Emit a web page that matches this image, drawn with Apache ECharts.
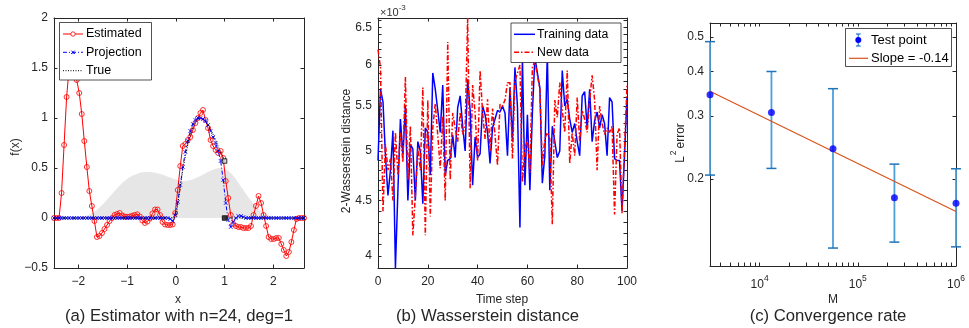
<!DOCTYPE html>
<html><head><meta charset="utf-8">
<script src="https://cdn.jsdelivr.net/npm/echarts@6/dist/echarts.min.js"></script>
<style>html,body{margin:0;padding:0;background:#fff}#c{width:969px;height:328px}</style>
</head><body><div id="c"></div><script>
// ---------- Panel (a) data ----------
const estX = [-2.500,-2.448,-2.396,-2.345,-2.293,-2.241,-2.189,-2.137,-2.085,-2.034,-1.982,-1.930,-1.878,-1.826,-1.775,-1.723,-1.671,-1.619,-1.567,-1.515,-1.464,-1.412,-1.360,-1.308,-1.256,-1.205,-1.153,-1.101,-1.049,-0.997,-0.945,-0.894,-0.842,-0.790,-0.738,-0.686,-0.635,-0.583,-0.531,-0.479,-0.427,-0.375,-0.324,-0.272,-0.220,-0.168,-0.116,-0.065,-0.013,0.039,0.091,0.143,0.195,0.246,0.298,0.350,0.402,0.454,0.505,0.557,0.609,0.661,0.713,0.765,0.816,0.868,0.920,0.972,1.024,1.075,1.127,1.179,1.231,1.283,1.335,1.386,1.438,1.490,1.542,1.594,1.645,1.697,1.749,1.801,1.853,1.905,1.956,2.008,2.060,2.112,2.164,2.215,2.267,2.319,2.371,2.423,2.475,2.526,2.578,2.630];
const estY = [0,0,0,0.25,0.73,1.21,1.5,1.65,1.55,1.38,1.25,1.04,0.77,0.51,0.27,0.12,-0.03,-0.19,-0.18,-0.15,-0.11,-0.07,-0.03,0.0,0.03,0.04,0.05,0.025,0.015,0.012,0.015,0.023,0.03,0.037,0.015,-0.025,-0.05,-0.035,-0.005,0.045,0.085,0.085,0.03,-0.04,-0.065,-0.07,-0.07,-0.065,0.05,0.28,0.52,0.72,0.74,0.78,0.81,0.88,0.95,1.0,1.05,1.08,0.98,0.9,0.78,0.72,0.68,0.65,0.67,0.6,0.37,0.2,0.03,-0.06,-0.08,-0.09,-0.09,-0.1,-0.1,-0.1,-0.08,0.03,0.12,0.22,0.15,0.03,-0.08,-0.19,-0.21,-0.21,-0.2,-0.2,-0.26,-0.32,-0.38,-0.34,-0.24,-0.12,-0.01,0,0,0];
const projY = [0,0,0,0,0,0,0,0,0,0,0,0,0,0,0,0,0,0,0,0,0,0,0,0,0,0,0,0,0,0,0,0,0,0,0,0,0,0,0,0,0,0,0,0,0,0,-0.01,-0.03,0.03,0.16,0.33,0.51,0.66,0.77,0.87,0.94,0.98,1.0,1.0,0.99,0.97,0.93,0.87,0.81,0.75,0.67,0.57,0.38,0.15,-0.02,-0.09,-0.04,0.0,0.02,0.02,0.01,0,0,0,0,0,0,0,0,0,0,0,0,0,0,0,0,0,0,0,0,0,0,0,0];
const trueX = [-2.5,0,0.05,0.1,0.15,0.2,0.25,0.3,0.35,0.4,0.45,0.5,0.55,0.6,0.65,0.7,0.75,0.8,0.85,0.9,0.95,1.0,1.0,1.0,2.63];
const trueY = [0,0,0.17,0.34,0.5,0.63,0.74,0.84,0.91,0.96,0.99,1.0,0.99,0.97,0.94,0.9,0.85,0.8,0.74,0.68,0.62,0.57,null,0,0];
const jumpX = [1.0, 1.0];
const jumpY = [0.57, 0];
const densX = [-2.5,-2.2,-2.0,-1.8,-1.6,-1.4,-1.2,-1.0,-0.8,-0.6,-0.4,-0.2,0,0.15,0.3,0.5,0.7,0.9,1.0,1.1,1.2,1.3,1.4,1.5,1.6,1.7,1.8,1.9,2.0,2.2,2.63];
const densY = [0,0,0.005,0.03,0.09,0.19,0.3,0.39,0.44,0.46,0.45,0.42,0.385,0.37,0.38,0.42,0.47,0.5,0.49,0.46,0.41,0.34,0.27,0.2,0.14,0.09,0.05,0.025,0.01,0,0];
const aXTicks = [-2,-1,0,1,2];
const aYTicks = [-0.5,0,0.5,1,1.5,2];

// ---------- Panel (b) data (x1e-3) ----------
const timeSteps = Array.from({length:101},(_,i)=>i);
const trainW = [4.9,5.7,5.55,4.95,4.55,4.8,5.22,3.9,4.6,5.35,4.95,5.5,4.5,5.07,5.02,4.5,5.1,5.0,4.47,5.25,5.2,4.75,5.9,5.7,5.45,5.2,5.75,4.75,4.9,4.92,5.17,4.93,5.48,5.62,5.27,5.0,5.82,5.45,4.65,5.15,4.93,4.97,5.5,5.4,5.2,4.87,5.25,5.35,5.45,5.43,5.5,5.42,4.95,5.72,5.1,5.97,5.5,4.25,6.1,4.65,5.4,4.6,5.42,6.1,5.9,5.72,4.67,4.95,6.15,4.6,5.27,5.1,4.93,5.0,5.93,5.5,5.58,5.35,5.2,5.3,5.1,4.95,5.62,5.67,5.25,5.7,5.1,5.33,5.43,5.25,5.4,5.3,4.95,5.6,5.55,4.92,4.9,4.9,4.4,4.95,5.6];
const newW = [6.2,5.97,4.4,5.07,4.8,4.92,4.5,5.2,4.75,5.2,4.88,5.85,4.7,5.27,4.18,4.55,5.03,4.8,5.72,4.18,5.57,4.35,5.25,5.53,5.17,4.82,5.38,4.5,6.3,4.7,5.42,5.25,5.1,5.43,5.18,5.27,6.63,4.62,5.75,5.42,4.9,5.93,5.43,5.13,5.58,5.0,5.47,5.17,4.85,5.52,5.5,5.57,5.78,5.78,4.92,5.8,5.9,6.0,4.68,5.03,5.12,4.78,5.97,6.05,5.87,5.7,4.85,5.13,5.2,5.13,4.28,5.57,5.37,5.78,5.45,5.2,5.93,4.87,5.2,4.95,5.6,5.1,5.45,5.35,5.2,5.57,5.87,5.57,4.8,5.5,5.3,5.18,5.25,5.2,5.27,4.37,5.18,5.25,4.38,5.03,5.75];
const bXTicks = [0,20,40,60,80,100];
const bYLabels = [4,4.5,5,5.5,6,6.5];
const bYMinor = [3.9,4.0,4.1,4.2,4.3,4.4,4.5,4.6,4.7,4.8,4.9,5.0,5.1,5.2,5.3,5.4,5.5,5.6,5.7,5.8,5.9,6.0,6.1,6.2,6.3,6.4,6.5,6.6];

// ---------- Panel (c) data ----------
const M = [3125, 13200, 55900, 236000, 1000000];
const errMean = [0.344, 0.307, 0.243, 0.177, 0.171];
const errLow = [0.205, 0.214, 0.128, 0.133, 0.129];
const errHigh = [0.485, 0.400, 0.358, 0.220, 0.2135];
const fitM = [3125, 1000000];
const fitY = [0.352, 0.162];
const cXLabels = [4,5,6];
const cXTicks = [4000,5000,6000,7000,8000,9000,10000,20000,30000,40000,50000,60000,70000,80000,90000,100000,200000,300000,400000,500000,600000,700000,800000,900000,1000000];
const cYTicks = [0.2,0.3,0.4,0.5];
const cYMin = 0.114, cYMax = 0.547;

const L = Math.log10;
const FONT = '"Liberation Sans", Arial, Helvetica, sans-serif';
const AX = '#262626';

function xPair(g, min, max, ticks, labels, fmt, rich){
  const common = {type:'value', gridIndex:g, min, max, splitLine:{show:false},
    axisLine:{show:true,onZero:false,lineStyle:{color:AX,width:1}},
    axisTick:{show:true,inside:true,length:3.5,customValues:ticks,lineStyle:{color:AX,width:1}}};
  return [
    Object.assign({}, common, {position:'bottom',
      axisLabel:{show:true,customValues:labels,formatter:fmt,color:AX,fontSize:12,fontFamily:FONT,margin:8,rich:rich}}),
    Object.assign({}, common, {position:'top', axisLabel:{show:false}})
  ];
}
function yPair(g, min, max, ticks, labels, fmt){
  const common = {type:'value', gridIndex:g, min, max, splitLine:{show:false},
    axisLine:{show:true,onZero:false,lineStyle:{color:AX,width:1}},
    axisTick:{show:true,inside:true,length:3.5,customValues:ticks,lineStyle:{color:AX,width:1}}};
  return [
    Object.assign({}, common, {position:'left',
      axisLabel:{show:true,customValues:labels,formatter:fmt,color:AX,fontSize:12,fontFamily:FONT,margin:6}}),
    Object.assign({}, common, {position:'right', axisLabel:{show:false}})
  ];
}
const fmtPlain = v => String(Math.round(v*100)/100).replace('-', '\u2212');
const fmtPow = v => String(Math.round(Math.pow(10,v)*100)/100);
const supRich = {b:{fontSize:12,fontFamily:FONT,color:AX,verticalAlign:'bottom',lineHeight:17},
                 s:{fontSize:8.5,fontFamily:FONT,color:AX,verticalAlign:'top',lineHeight:17}};

const bMin = L(Math.min(...trainW, ...newW)), bMax = L(Math.max(...trainW, ...newW));

const xAxis = [].concat(
  xPair(0, estX[0], estX[estX.length-1], aXTicks, aXTicks, fmtPlain),
  xPair(1, 0, 100, bXTicks, bXTicks, fmtPlain),
  xPair(2, L(M[0]), L(M[M.length-1]), cXTicks.map(L), cXLabels, v => '{b|10}{s|'+Math.round(v)+'}', supRich)
);
const yAxis = [].concat(
  yPair(0, -0.5, 2, aYTicks, aYTicks, fmtPlain),
  yPair(1, bMin, bMax, bYMinor.map(L), bYLabels.map(L), fmtPow),
  yPair(2, L(cYMin), L(cYMax), cYTicks.map(L), cYTicks.map(L), fmtPow)
);

const zip = (xs, ys) => xs.map((x,i)=> ys[i]===null ? [x,'-'] : [x, ys[i]]);

const series = [
  {type:'line', xAxisIndex:0, yAxisIndex:0, data:zip(densX,densY), symbol:'none', smooth:0.4,
   lineStyle:{width:0,color:'#e6e6e6'}, areaStyle:{color:'#e6e6e6',opacity:1}, silent:true, z:1},
  {type:'line', xAxisIndex:0, yAxisIndex:0, data:zip(estX,estY), symbol:'circle', symbolSize:5,
   itemStyle:{color:'rgba(255,255,255,0)',borderColor:'#ff0000',borderWidth:0.8},
   lineStyle:{color:'#ff0000',width:1}, z:3},
  {type:'line', xAxisIndex:0, yAxisIndex:0, data:zip(estX,projY), symbol:'path://M0,0L10,10M10,0L0,10', symbolSize:3.5,
   itemStyle:{color:'#0000ff',borderColor:'#0000ff',borderWidth:0.9},
   lineStyle:{color:'#0000ff',width:1,type:[4,2,1,2]}, z:4},
  {type:'line', xAxisIndex:0, yAxisIndex:0, data:zip(trueX,trueY), symbol:'none', connectNulls:false,
   lineStyle:{color:'#000000',width:1,type:[1,1.5]}, z:5},
  {type:'scatter', xAxisIndex:0, yAxisIndex:0, data:zip(jumpX,jumpY).map((d,i)=>({value:d, itemStyle:{color: i===0 ? '#d0d0d0' : '#111'}})),
   symbol:'rect', symbolSize:4.5, itemStyle:{borderColor:'#000',borderWidth:1}, z:6},

  {type:'line', xAxisIndex:2, yAxisIndex:2, data:timeSteps.map((t,i)=>[t, L(trainW[i])]), symbol:'none',
   lineStyle:{color:'#0000ff',width:1.5}, z:3},
  {type:'line', xAxisIndex:2, yAxisIndex:2, data:timeSteps.map((t,i)=>[t, L(newW[i])]), symbol:'none',
   lineStyle:{color:'#ff0000',width:1.5,type:[5,2,1.5,2]}, z:4},

  {type:'custom', xAxisIndex:4, yAxisIndex:4, clip:false, z:3,
   data:M.map((m,i)=>[L(m), L(errLow[i]), L(errHigh[i])]),
   renderItem:(params, api)=>{
     const x = api.value(0);
     const lo = api.coord([x, api.value(1)]), hi = api.coord([x, api.value(2)]);
     const cw = 5;
     return {type:'group', children:[
       {type:'line', shape:{x1:lo[0],y1:lo[1],x2:hi[0],y2:hi[1]}, style:{stroke:'#4d9fd8',lineWidth:1.8}},
       {type:'line', shape:{x1:lo[0]-cw,y1:lo[1],x2:lo[0]+cw,y2:lo[1]}, style:{stroke:'#1f74bb',lineWidth:1.5}},
       {type:'line', shape:{x1:hi[0]-cw,y1:hi[1],x2:hi[0]+cw,y2:hi[1]}, style:{stroke:'#1f74bb',lineWidth:1.5}}
     ]};
   }},
  {type:'line', xAxisIndex:4, yAxisIndex:4, data:fitM.map((m,i)=>[L(m), L(fitY[i])]), symbol:'none',
   lineStyle:{color:'#D95319',width:1.2}, z:4},
  {type:'scatter', xAxisIndex:4, yAxisIndex:4, clip:false, data:M.map((m,i)=>[L(m), L(errMean[i])]),
   symbol:'circle', symbolSize:7, itemStyle:{color:'#0000ff'}, z:5}
];

function txt(x, y, text, opt){
  return Object.assign({type:'text', x, y, silent:true,
    style:Object.assign({text, fontSize:12, fontFamily:FONT, fill:AX, align:'center', verticalAlign:'middle'}, (opt&&opt.style)||{})},
    opt&&opt.el||{});
}
const graphic = [
  txt(16, 147, 'f(x)', {el:{rotation:Math.PI/2}}),
  txt(178, 300, 'x'),
  txt(179, 316, '(a) Estimator with n=24, deg=1', {style:{fontSize:16.7}}),
  txt(346.5, 151, '2-Wasserstein distance', {el:{rotation:Math.PI/2}}),
  txt(502, 300, 'Time step'),
  txt(487.5, 316, '(b) Wasserstein distance', {style:{fontSize:16.7}}),
  txt(380, 11, '{b|\u00d710}{s|-3}', {style:{align:'left', rich:{b:{fontSize:11,fontFamily:FONT,fill:'#333',verticalAlign:'bottom',lineHeight:15},s:{fontSize:8,fontFamily:FONT,fill:'#333',verticalAlign:'top',lineHeight:15}}}}),
  txt(678, 143, '{b|L}{s|2}{b|error}', {el:{rotation:Math.PI/2}, style:{rich:{b:{fontSize:12,fontFamily:FONT,fill:AX,verticalAlign:'bottom',lineHeight:17},s:{fontSize:8.5,fontFamily:FONT,fill:AX,verticalAlign:'top',lineHeight:17,padding:[0,2,0,1]}}}}),
  txt(833, 300, 'M'),
  txt(828, 316, '(c) Convergence rate', {style:{fontSize:16.7}}),

  // legend (a)
  {type:'rect', shape:{x:59.5,y:22.5,width:92,height:57.5}, style:{fill:'#fff',stroke:AX,lineWidth:0.8}, z:50},
  {type:'line', shape:{x1:63,y1:34,x2:83,y2:34}, style:{stroke:'#ff0000',lineWidth:1}, z:51},
  {type:'circle', shape:{cx:73,cy:34,r:2.2}, style:{fill:'#fff',stroke:'#ff0000',lineWidth:0.8}, z:52},
  txt(86, 34, 'Estimated', {style:{align:'left',fontSize:12.5,fill:'#000'}, el:{z:52}}),
  {type:'line', shape:{x1:63,y1:52.3,x2:83,y2:52.3}, style:{stroke:'#0000ff',lineWidth:1,lineDash:[4,2,1,2]}, z:51},
  {type:'polyline', shape:{points:[[71.3,50.6],[74.7,54],[73,52.3],[71.3,54],[74.7,50.6]]}, style:{stroke:'#0000ff',lineWidth:0.9,fill:null}, z:52},
  txt(86, 52.3, 'Projection', {style:{align:'left',fontSize:12.5,fill:'#000'}, el:{z:52}}),
  {type:'line', shape:{x1:63,y1:70.7,x2:83,y2:70.7}, style:{stroke:'#000',lineWidth:1,lineDash:[1,1.5]}, z:51},
  txt(86, 70.7, 'True', {style:{align:'left',fontSize:12.5,fill:'#000'}, el:{z:52}}),

  // legend (b)
  {type:'rect', shape:{x:511,y:23,width:110,height:39.5}, style:{fill:'#fff',stroke:AX,lineWidth:0.8}, z:50},
  {type:'line', shape:{x1:514,y1:34.3,x2:535,y2:34.3}, style:{stroke:'#0000ff',lineWidth:1.5}, z:51},
  txt(537, 34.3, 'Training data', {style:{align:'left',fontSize:12.3,fill:'#000'}, el:{z:52}}),
  {type:'line', shape:{x1:514,y1:52.3,x2:535,y2:52.3}, style:{stroke:'#ff0000',lineWidth:1.5,lineDash:[5,2,1.5,2]}, z:51},
  txt(537, 52.3, 'New data', {style:{align:'left',fontSize:12.3,fill:'#000'}, el:{z:52}}),

  // legend (c)
  {type:'rect', shape:{x:845.5,y:28.5,width:106,height:38}, style:{fill:'#fff',stroke:AX,lineWidth:0.8}, z:50},
  {type:'line', shape:{x1:858.3,y1:34,x2:858.3,y2:46}, style:{stroke:'#4d9fd8',lineWidth:1.5}, z:51},
  {type:'line', shape:{x1:856,y1:34,x2:860.6,y2:34}, style:{stroke:'#1f74bb',lineWidth:1.2}, z:51},
  {type:'line', shape:{x1:856,y1:46,x2:860.6,y2:46}, style:{stroke:'#1f74bb',lineWidth:1.2}, z:51},
  {type:'circle', shape:{cx:858.3,cy:40,r:3}, style:{fill:'#0000ff'}, z:52},
  txt(871, 40, 'Test point', {style:{align:'left',fontSize:13,fill:'#000'}, el:{z:52}}),
  {type:'line', shape:{x1:849,y1:58.3,x2:868,y2:58.3}, style:{stroke:'#D95319',lineWidth:1.2}, z:51},
  txt(871, 58.3, 'Slope = -0.14', {style:{align:'left',fontSize:13,fill:'#000'}, el:{z:52}})
];

const chart = echarts.init(document.getElementById('c'), null, {renderer:'canvas'});
chart.setOption({
  animation:false, backgroundColor:'#fff',
  grid:[
    {left:54, top:18, width:250, height:250, outerBoundsMode:'none'},
    {left:378, top:18, width:249, height:250, outerBoundsMode:'none'},
    {left:710, top:23, width:246, height:243, outerBoundsMode:'none'}
  ],
  xAxis, yAxis, series, graphic
});
</script></body></html>
